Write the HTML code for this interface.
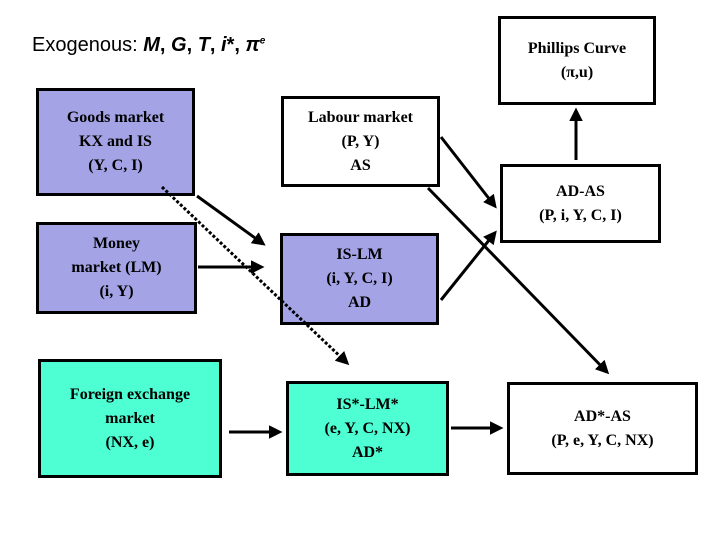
<!DOCTYPE html>
<html><head><meta charset="utf-8"><style>
body{margin:0;width:720px;height:540px;background:#fff;position:relative;overflow:hidden;font-family:"Liberation Serif",serif;}
.b{position:absolute;box-sizing:border-box;border:3px solid #000;display:flex;align-items:center;justify-content:center;text-align:center;font-weight:bold;font-size:16px;line-height:24px;}
.p{background:#a3a3e6}.g{background:#4dffd2}
</style></head><body>
<div style="position:absolute;left:32px;top:34px;font-family:'Liberation Sans',sans-serif;font-size:20px;">Exogenous: <b><i>M</i>, <i>G</i>, <i>T</i>, <i>i</i>*, <i>π<sup style="font-size:10px">e</sup></i></b></div>
<div class="b p" style="left:36px;top:88px;width:159px;height:108px;">Goods market<br>KX and IS<br>(Y, C, I)</div>
<div class="b" style="left:498px;top:16px;width:158px;height:89px;">Phillips Curve<br>(π,u)</div>
<div class="b" style="left:281px;top:96px;width:159px;height:91px;">Labour market<br>(P, Y)<br>AS</div>
<div class="b" style="left:500px;top:164px;width:161px;height:79px;">AD-AS<br>(P, i, Y, C, I)</div>
<div class="b p" style="left:36px;top:222px;width:161px;height:92px;">Money<br>market (LM)<br>(i, Y)</div>
<div class="b p" style="left:280px;top:233px;width:159px;height:92px;">IS-LM<br>(i, Y, C, I)<br>AD</div>
<div class="b g" style="left:38px;top:359px;width:184px;height:119px;">Foreign exchange<br>market<br>(NX, e)</div>
<div class="b g" style="left:286px;top:381px;width:163px;height:95px;">IS*-LM*<br>(e, Y, C, NX)<br>AD*</div>
<div class="b" style="left:507px;top:382px;width:191px;height:93px;">AD*-AS<br>(P, e, Y, C, NX)</div>
<svg width="720" height="540" style="position:absolute;left:0;top:0">
<defs><marker id="a" markerWidth="4.5" markerHeight="4.5" refX="3" refY="2.25" orient="auto"><path d="M0,0L4.5,2.25L0,4.5z"/></marker></defs>
<g stroke="#000" stroke-width="3" fill="none" marker-end="url(#a)">
<line x1="197" y1="196" x2="262" y2="243"/>
<line x1="198" y1="267" x2="260" y2="267"/>
<line x1="441" y1="137" x2="494" y2="205"/>
<line x1="441" y1="300" x2="494" y2="234"/>
<line x1="428" y1="188" x2="606" y2="371"/>
<line x1="576" y1="160" x2="576" y2="112"/>
<line x1="229" y1="432" x2="278" y2="432"/>
<line x1="451" y1="428" x2="499" y2="428"/>
<line x1="162" y1="187" x2="346" y2="362" stroke-dasharray="3,2"/>
</g></svg>
</body></html>
